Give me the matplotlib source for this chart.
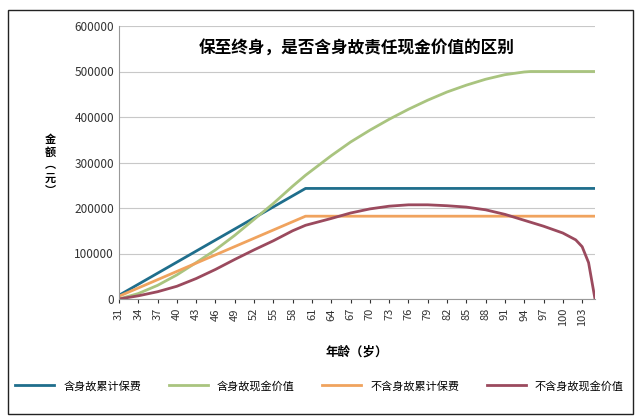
import matplotlib.pyplot as plt
import numpy as np

plt.rcParams['font.family'] = ['Noto Sans CJK SC', 'DejaVu Sans']

# 累计保费 (linear payments until 60)
prem_ages = [31, 60, 105]
prem_with_death = [8100, 243000, 243000]
prem_no_death = [6070, 182000, 182000]

# 含身故现金价值
green_ages = [31, 34, 37, 40, 43, 46, 49, 52, 55, 58, 60, 64, 67, 70, 73, 76, 79, 82, 85, 88, 91, 94, 95, 105]
green_vals = [0, 12000, 30000, 53000, 80000, 108000, 140000, 175000, 210000, 248000, 272000,
              315000, 345000, 371000, 395000, 417000, 437000, 455000, 470000, 483000, 493000, 499000, 500000, 500000]

# 不含身故现金价值
red_ages = [31, 34, 37, 40, 43, 46, 49, 52, 55, 58, 60, 64, 67, 70, 73, 76, 79, 82, 85, 88, 91, 94, 97, 100, 102, 103, 104, 105]
red_vals = [0, 7000, 16000, 28000, 45000, 65000, 87000, 108000, 128000, 150000, 162000, 177000, 189000, 198000,
            204000, 207000, 207000, 205000, 202000, 196000, 186000, 173000, 160000, 145000, 130000, 115000, 80000, 0]

fig = plt.figure(figsize=(6.39, 4.20), dpi=100)
ax = fig.add_axes([119/639, 1-299/420, (595-119)/639, (299-26)/420])

ax.plot(prem_ages, prem_with_death, color='#1f6e8c', lw=2, label='含身故累计保费')
ax.plot(green_ages, green_vals, color='#a9c47f', lw=2, label='含身故现金价值')
ax.plot(prem_ages, prem_no_death, color='#f0a35e', lw=2, label='不含身故累计保费')
ax.plot(red_ages, red_vals, color='#9b4a5e', lw=2, label='不含身故现金价值')

ax.set_xlim(31, 105)
ax.set_ylim(0, 600000)
ax.set_yticks(range(0, 600001, 100000))
ax.set_xticks(range(31, 104, 3))
ax.tick_params(axis='x', labelrotation=90, labelsize=8, length=3, colors='#333333')
ax.tick_params(axis='y', labelsize=8.5, length=0, colors='#333333')
ax.grid(axis='y', color='#c8c8c8', lw=0.8)
ax.set_axisbelow(True)
for s in ['top', 'right']:
    ax.spines[s].set_visible(False)
ax.spines['left'].set_color('#999999')
ax.spines['bottom'].set_color('#999999')

ax.text(0.5, 0.95, '保至终身，是否含身故责任现金价值的区别', transform=ax.transAxes,
        ha='center', va='top', fontsize=12, fontweight='bold')
fig.text(50/639, 1-165/420, '金\n额\n︵\n元\n︶', ha='center', va='center', fontsize=8,
         fontweight='bold', linespacing=1.0)
fig.text(357/639, 1-352/420, '年龄（岁）', ha='center', va='center', fontsize=9, fontweight='bold')

fig.legend(loc='center', bbox_to_anchor=(0.5, 1-386/420), ncol=4, frameon=False,
           fontsize=8, handlelength=3.5, columnspacing=2.5)

fig.patches.append(plt.Rectangle((8/639, 6/420), 625/639, 404/420, transform=fig.transFigure,
                                 fill=False, edgecolor='#222222', lw=1))

fig.savefig('out.png', dpi=100)
